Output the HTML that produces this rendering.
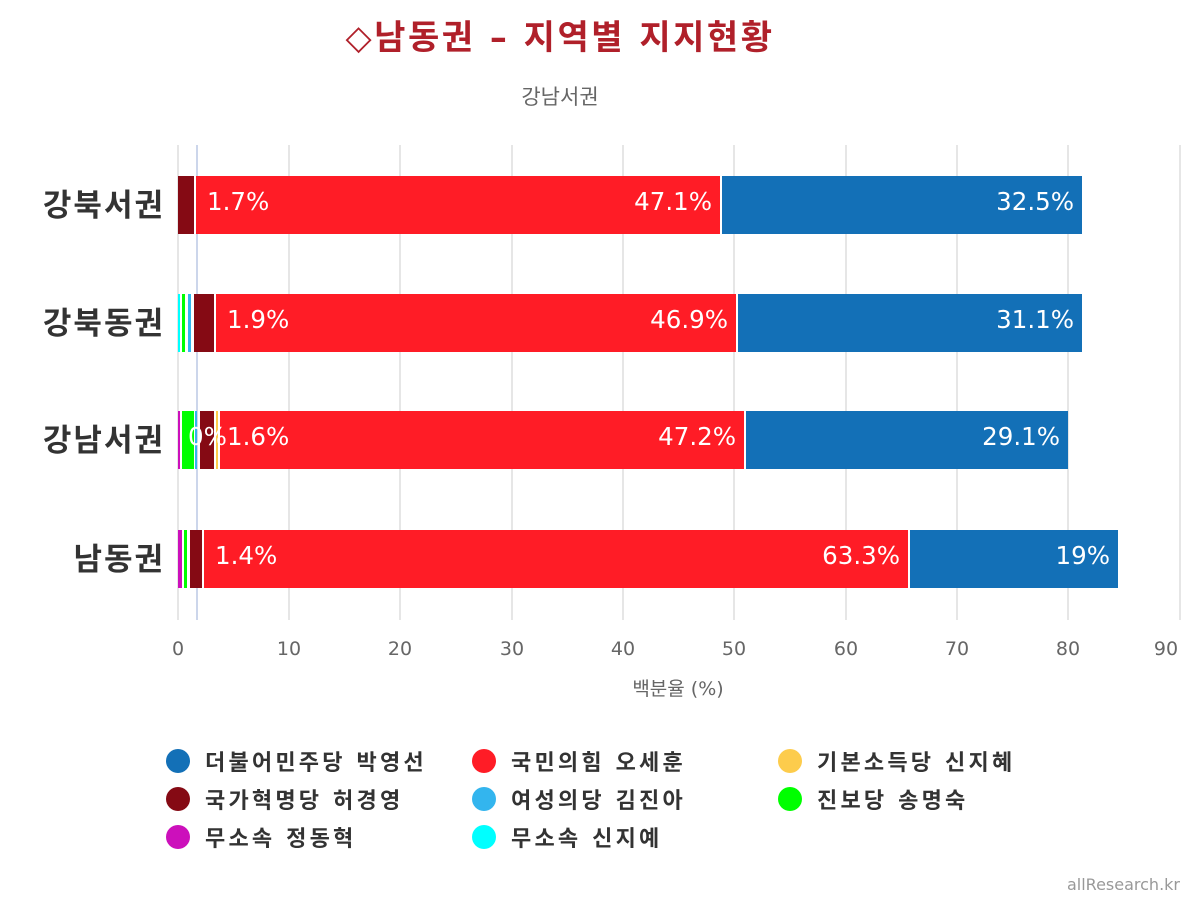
<!DOCTYPE html>
<html><head><meta charset="utf-8"><style>
body{margin:0;background:#fff}
text{font-family:"DejaVu Sans","Noto Sans CJK KR",sans-serif}
</style></head><body>
<svg width="1200" height="900" xmlns="http://www.w3.org/2000/svg">
<rect width="1200" height="900" fill="#fff"/>
<text x="560" y="49" text-anchor="middle" font-size="34" font-weight="bold" fill="#b0202a" letter-spacing="2.5">◇남동권 – 지역별 지지현황</text>
<text x="560" y="104" text-anchor="middle" font-size="21" fill="#666">강남서권</text>
<g stroke="#e6e6e6" stroke-width="2">
<line x1="178" y1="145" x2="178" y2="620"/><line x1="289" y1="145" x2="289" y2="620"/><line x1="400" y1="145" x2="400" y2="620"/><line x1="512" y1="145" x2="512" y2="620"/><line x1="623" y1="145" x2="623" y2="620"/><line x1="734" y1="145" x2="734" y2="620"/><line x1="846" y1="145" x2="846" y2="620"/><line x1="957" y1="145" x2="957" y2="620"/><line x1="1068" y1="145" x2="1068" y2="620"/><line x1="1180" y1="145" x2="1180" y2="620"/>
</g>
<line x1="197" y1="145" x2="197" y2="620" stroke="#ccd6eb" stroke-width="2"/>
<rect x="178" y="176" width="16" height="58" fill="#850a14"/>
<rect x="196" y="176" width="524" height="58" fill="#ff1c26"/>
<rect x="722" y="176" width="360" height="58" fill="#1370b7"/>
<rect x="178" y="294" width="2" height="58" fill="#00ffff"/>
<rect x="182" y="294" width="3" height="58" fill="#00ff00"/>
<rect x="188" y="294" width="3" height="58" fill="#33b5ee"/>
<rect x="194" y="294" width="20" height="58" fill="#850a14"/>
<rect x="216" y="294" width="520" height="58" fill="#ff1c26"/>
<rect x="738" y="294" width="344" height="58" fill="#1370b7"/>
<rect x="178" y="411" width="2" height="58" fill="#cc10bb"/>
<rect x="182" y="411" width="12" height="58" fill="#00ff00"/>
<rect x="195" y="411" width="2" height="58" fill="#33b5ee"/>
<rect x="200" y="411" width="14" height="58" fill="#850a14"/>
<rect x="216" y="411" width="2" height="58" fill="#fdcc4c"/>
<rect x="220" y="411" width="524" height="58" fill="#ff1c26"/>
<rect x="746" y="411" width="322" height="58" fill="#1370b7"/>
<rect x="178" y="530" width="4" height="58" fill="#cc10bb"/>
<rect x="184" y="530" width="3" height="58" fill="#00ff00"/>
<rect x="190" y="530" width="12" height="58" fill="#850a14"/>
<rect x="204" y="530" width="704" height="58" fill="#ff1c26"/>
<rect x="910" y="530" width="208" height="58" fill="#1370b7"/>
<g font-size="24.5" fill="#fff">
<text x="207" y="210">1.7%</text><text x="712" y="210" text-anchor="end">47.1%</text><text x="1074" y="210" text-anchor="end">32.5%</text>
<text x="227" y="328">1.9%</text><text x="728" y="328" text-anchor="end">46.9%</text><text x="1074" y="328" text-anchor="end">31.1%</text>
<text x="188" y="445">0%</text><text x="227" y="445">1.6%</text><text x="736" y="445" text-anchor="end">47.2%</text><text x="1060" y="445" text-anchor="end">29.1%</text>
<text x="215" y="564">1.4%</text><text x="900" y="564" text-anchor="end">63.3%</text><text x="1110" y="564" text-anchor="end">19%</text>
</g>
<g font-size="31" font-weight="bold" fill="#333" text-anchor="end" letter-spacing="2">
<text x="165" y="216">강북서권</text><text x="165" y="334">강북동권</text><text x="165" y="451">강남서권</text><text x="165" y="570">남동권</text>
</g>
<g font-size="19" fill="#666" text-anchor="middle">
<text x="178" y="655">0</text><text x="289" y="655">10</text><text x="400" y="655">20</text><text x="512" y="655">30</text><text x="623" y="655">40</text><text x="734" y="655">50</text><text x="846" y="655">60</text><text x="957" y="655">70</text><text x="1068" y="655">80</text><text x="1166" y="655">90</text>
<text x="678" y="695">백분율 (%)</text>
</g>
<g font-size="22" font-weight="bold" fill="#333" letter-spacing="3.2">
<circle cx="178" cy="761" r="12" fill="#1370b7"/><text x="205" y="770">더불어민주당 박영선</text>
<circle cx="484" cy="761" r="12" fill="#ff1c26"/><text x="511" y="770">국민의힘 오세훈</text>
<circle cx="790" cy="761" r="12" fill="#fdcc4c"/><text x="817" y="770">기본소득당 신지혜</text>
<circle cx="178" cy="799" r="12" fill="#850a14"/><text x="205" y="808">국가혁명당 허경영</text>
<circle cx="484" cy="799" r="12" fill="#33b5ee"/><text x="511" y="808">여성의당 김진아</text>
<circle cx="790" cy="799" r="12" fill="#00ff00"/><text x="817" y="808">진보당 송명숙</text>
<circle cx="178" cy="837" r="12" fill="#cc10bb"/><text x="205" y="846">무소속 정동혁</text>
<circle cx="484" cy="837" r="12" fill="#00ffff"/><text x="511" y="846">무소속 신지예</text>
</g>
<text x="1180" y="890" text-anchor="end" font-size="16" fill="#999">allResearch.kr</text>
</svg>
</body></html>
